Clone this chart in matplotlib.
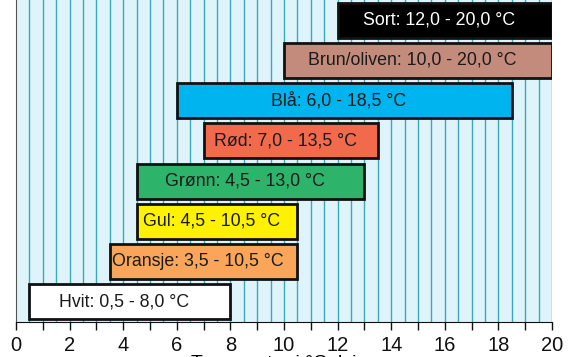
import matplotlib
matplotlib.use('Agg')
import matplotlib.pyplot as plt
import numpy as np

plt.rcParams['font.family'] = ['Liberation Sans', 'DejaVu Sans']

# bottom to top
names = ['Hvit', 'Oransje', 'Gul', 'Grønn', 'Rød', 'Blå', 'Brun/oliven', 'Sort']
low = [0.5, 3.5, 4.5, 4.5, 7.0, 6.0, 10.0, 12.0]
high = [8.0, 10.5, 10.5, 13.0, 13.5, 18.5, 20.0, 20.0]
colors = ['#FFFFFF', '#F9A65A', '#FFF200', '#2EB36A', '#F26A4C', '#00B4F0', '#C38B7C', '#000000']
text_colors = ['#1a1a1a'] * 7 + ['#FFFFFF']
x_ticks = np.arange(0, 21, 2)


def fmt(v):
    return f'{v:.1f}'.replace('.', ',')


fig = plt.figure(figsize=(5.73, 3.57), dpi=100)
ax = fig.add_axes([16 / 573, 35 / 357, 536 / 573, 322 / 357])
ax.set_facecolor('#DFF3FB')

# vertical grid every half degree
for gx in np.arange(0.5, 20.01, 0.5):
    ax.axvline(gx, color='#3AAAB8', lw=1.0, zorder=1)

y = np.arange(len(names))
for i in range(len(names)):
    ax.barh(y[i], high[i] - low[i], left=low[i], height=0.87,
            color=colors[i], edgecolor='#111111', linewidth=2, zorder=3)
    label = f'{names[i]}: {fmt(low[i])} - {fmt(high[i])} °C'
    ax.text((low[i] + high[i]) / 2 - 0.2, y[i], label, ha='center', va='center',
            fontsize=12.8, color=text_colors[i], zorder=4)

ax.set_xlim(0, 20)
ax.set_ylim(-0.5, 7.5)
ax.set_xticks(x_ticks)
ax.set_xticks(np.arange(0, 21, 1), minor=True)
ax.tick_params(axis='x', which='both', direction='out', length=6, width=1,
               labelsize=14.5, pad=4, colors='#111111')
ax.set_yticks([])
for s in ['top', 'right']:
    ax.spines[s].set_visible(False)
ax.spines['left'].set_color('#555555')
ax.spines['bottom'].set_color('#111111')
ax.set_xlabel('Temperatur i °Celsius', fontsize=14, labelpad=0)

plt.savefig('out.png', dpi=100)
